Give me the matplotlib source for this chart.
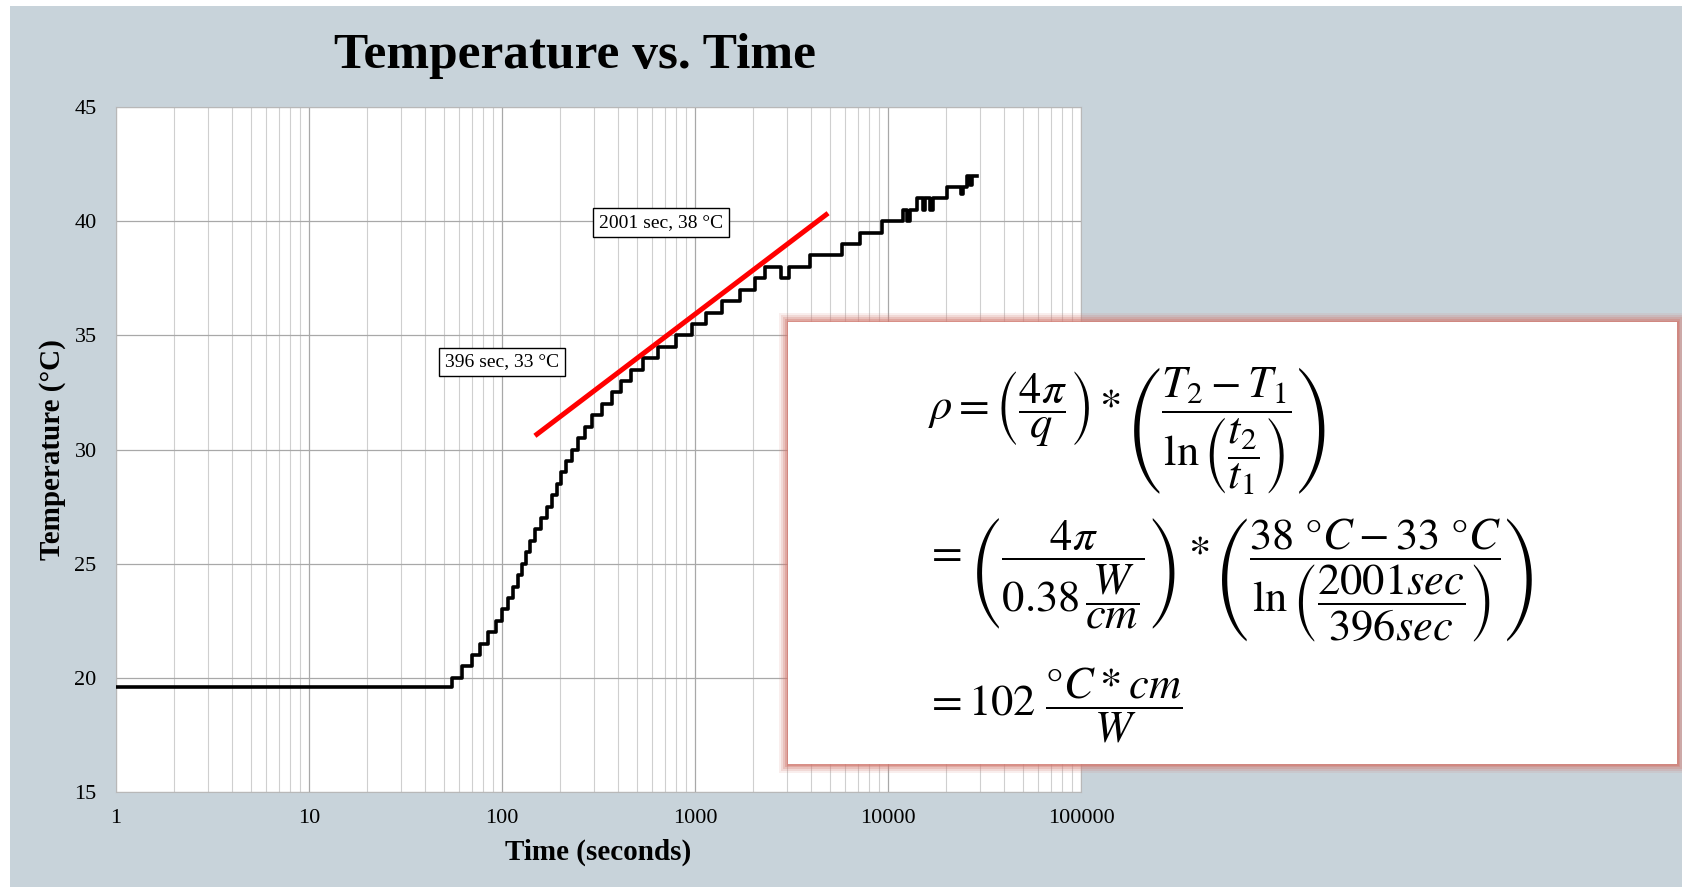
import numpy as np
import matplotlib.pyplot as plt
from matplotlib.patches import Rectangle
from matplotlib.ticker import FixedLocator, LogLocator, NullFormatter

plt.rcParams['font.family'] = ['Liberation Serif', 'DejaVu Serif']
plt.rcParams['mathtext.fontset'] = 'stix'

time_s = [1, 55, 62, 70, 77, 85, 93, 100, 107, 114, 121, 127, 133, 140, 149,
          160, 171, 182, 193, 203, 215, 230, 248, 268, 292, 330, 370, 412, 465,
          540, 640, 800, 960, 1140, 1380, 1700, 2050, 2300, 2800, 3050, 3945,
          5780, 7160, 9310, 11970, 12600, 13000, 14130, 15200, 15600, 16500,
          17000, 20200, 24000, 24600, 25650, 26500, 27200, 28900]
temp_c = [19.6, 20.0, 20.5, 21.0, 21.5, 22.0, 22.5, 23.0, 23.5, 24.0, 24.5,
          25.0, 25.5, 26.0, 26.5, 27.0, 27.5, 28.0, 28.5, 29.0, 29.5, 30.0,
          30.5, 31.0, 31.5, 32.0, 32.5, 33.0, 33.5, 34.0, 34.5, 35.0, 35.5,
          36.0, 36.5, 37.0, 37.5, 38.0, 37.5, 38.0, 38.5, 39.0, 39.5, 40.0,
          40.5, 40.0, 40.5, 41.0, 40.5, 41.0, 40.5, 41.0, 41.5, 41.2, 41.5,
          42.0, 41.6, 42.0, 42.0]

# hand-drawn slope line
fit_t = [148, 4890]
fit_T = [30.6, 40.35]

x_ticks = [1, 10, 100, 1000, 10000, 100000]
x_labels = ['1', '10', '100', '1000', '10000', '100000']
y_ticks = [15, 20, 25, 30, 35, 40, 45]

fig = plt.figure(figsize=(16.82, 8.91), dpi=100)
fig.patch.set_facecolor('white')
fig.patches.append(Rectangle((10 / 1682, 4 / 891), 1 - 10 / 1682, 1 - 10 / 891,
                             transform=fig.transFigure, facecolor='#c8d3da',
                             edgecolor='none', zorder=-10))

ax = fig.add_axes([0.069, 0.1111, 0.5737, 0.7688])
ax.set_facecolor('white')
ax.plot(time_s, temp_c, drawstyle='steps-post', color='black', lw=2.6, zorder=3)
ax.plot(fit_t, fit_T, color='#ff0000', lw=3.6, solid_capstyle='butt', zorder=4)

ax.set_xscale('log')
ax.set_xlim(1, 100000)
ax.set_ylim(15, 45)
ax.xaxis.set_major_locator(FixedLocator(x_ticks))
ax.set_xticklabels(x_labels)
ax.xaxis.set_minor_locator(LogLocator(base=10, subs=np.arange(2, 10)))
ax.xaxis.set_minor_formatter(NullFormatter())
ax.set_yticks(y_ticks)
ax.tick_params(axis='both', which='both', length=0, labelsize=16, pad=12)
ax.tick_params(axis='y', pad=14)
ax.grid(True, which='major', color='#a8a8a8', lw=0.9)
ax.grid(True, which='minor', axis='x', color='#cfcfcf', lw=0.8)
for sp in ax.spines.values():
    sp.set_color('#b8b8b8')
    sp.set_linewidth(0.8)

ax.set_xlabel('Time (seconds)', fontsize=21, fontweight='bold', labelpad=8)
ax.set_ylabel('Temperature (°C)', fontsize=21, fontweight='bold', labelpad=6)
fig.text(0.342, 0.937, 'Temperature vs. Time', fontsize=37, fontweight='bold',
         ha='center', va='center')

box = dict(boxstyle='square,pad=0.3', facecolor='white', edgecolor='black', lw=1)
ax.text(667, 39.95, '2001 sec, 38 °C', fontsize=14, ha='center', va='center', bbox=box, zorder=5)
ax.text(100, 33.83, '396 sec, 33 °C', fontsize=14, ha='center', va='center', bbox=box, zorder=5)

# formula panel with reddish glow
bx, by, bw, bh = 788 / 1682, 1 - 764 / 891, (1677 - 788) / 1682, (764 - 322) / 891
for k, a in zip([9, 7, 5, 3, 1.5], [0.12, 0.18, 0.25, 0.35, 0.5]):
    dx, dy = k / 1682, k / 891
    fig.patches.append(Rectangle((bx - dx, by - dy), bw + 2 * dx, bh + 2 * dy,
                                 transform=fig.transFigure, facecolor='#d27a70',
                                 edgecolor='none', alpha=a, zorder=5))
fig.patches.append(Rectangle((bx, by), bw, bh, transform=fig.transFigure,
                             facecolor='white', edgecolor='none', zorder=6))

fs = 32
fig.text(928 / 1682, 1 - 430 / 891,
         r'$\rho = \left(\dfrac{4\pi}{q}\right) * \left(\dfrac{T_2 - T_1}{\ln\left(\dfrac{t_2}{t_1}\right)}\right)$',
         fontsize=fs, ha='left', va='center', zorder=7)
fig.text(925 / 1682, 1 - 580 / 891,
         r'$= \left(\dfrac{4\pi}{0.38\,\dfrac{W}{cm}}\right) * \left(\dfrac{38\ \degree C - 33\ \degree C}{\ln\left(\dfrac{2001 sec}{396 sec}\right)}\right)$',
         fontsize=fs, ha='left', va='center', zorder=7)
fig.text(925 / 1682, 1 - 705 / 891,
         r'$= 102\ \dfrac{\degree C * cm}{W}$',
         fontsize=fs, ha='left', va='center', zorder=7)

fig.savefig('out.png', dpi=100)
